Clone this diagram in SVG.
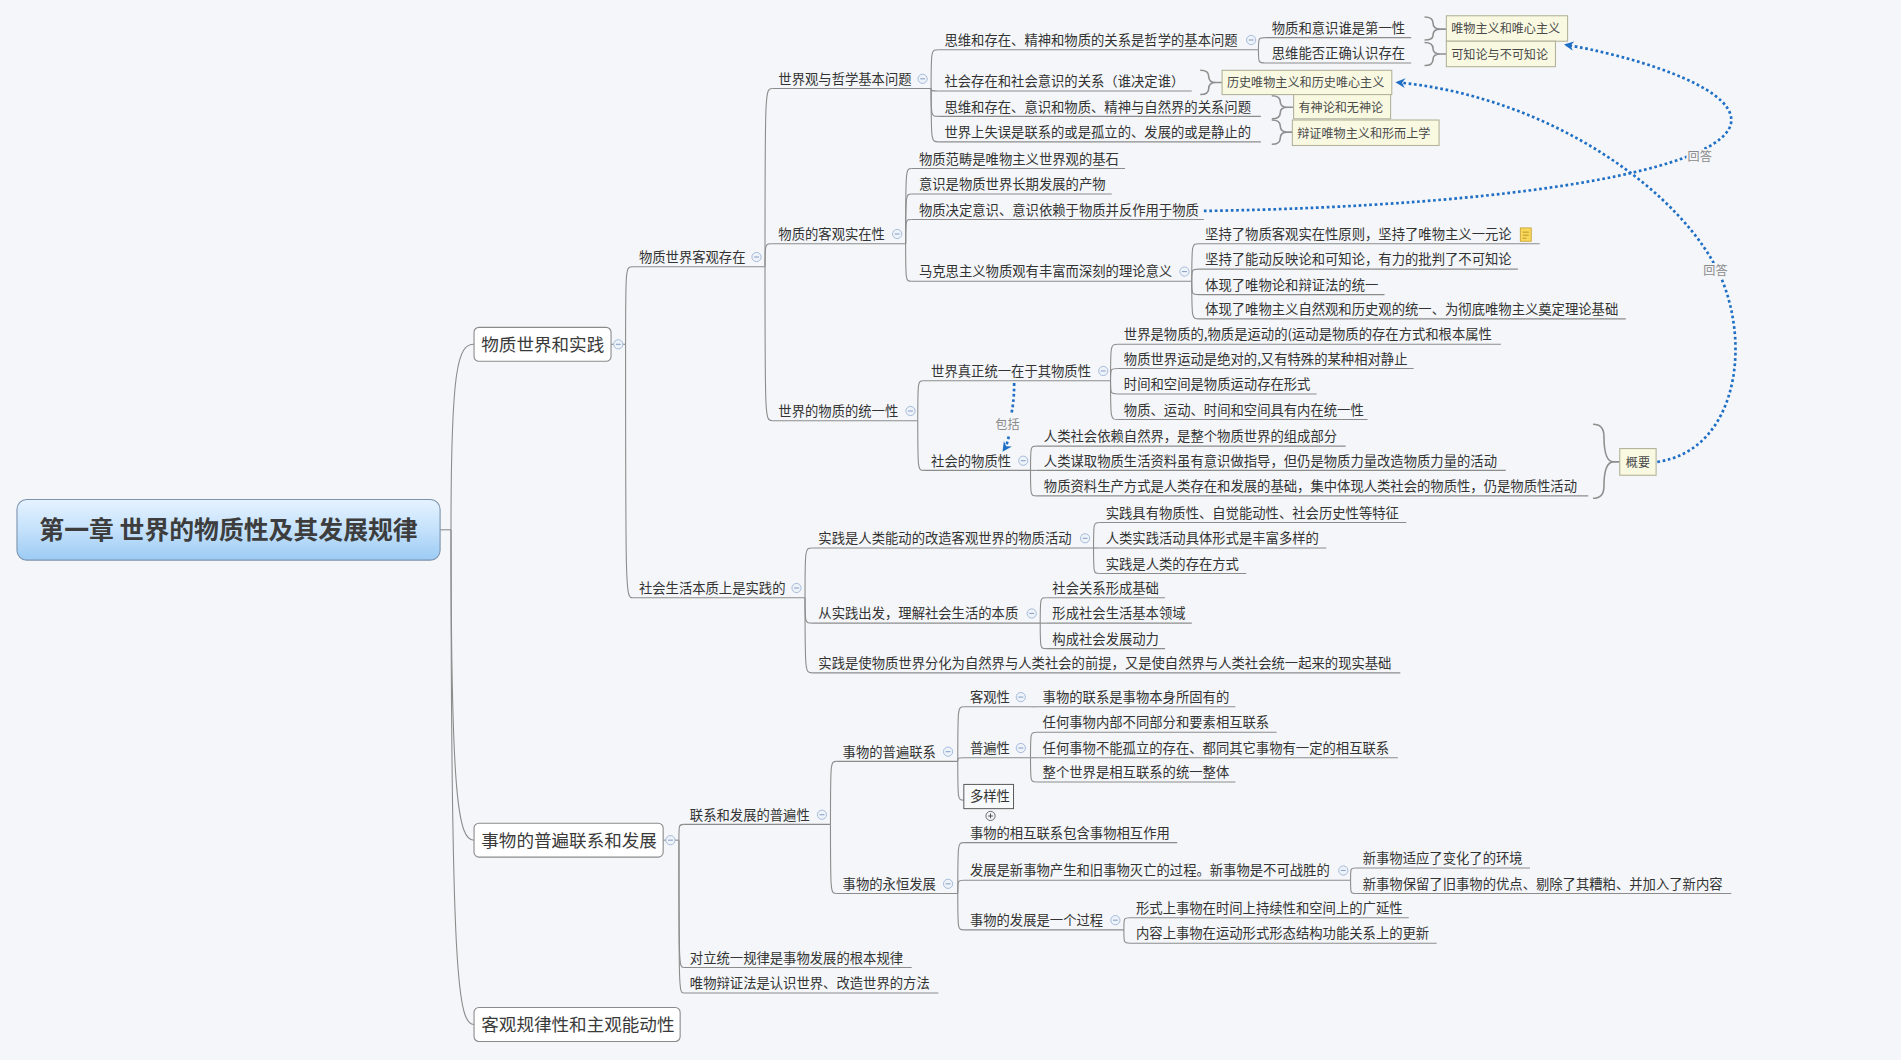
<svg xmlns="http://www.w3.org/2000/svg" width="1901" height="1060" viewBox="0 0 1901 1060">
<style>
text{font-family:"Noto Sans CJK SC","Noto Sans",sans-serif;fill:#333}
.t{font-size:11px}
.l1{font-size:14.5px;fill:#3a3a3a}
.root{font-size:20.5px;font-weight:bold;fill:#3d3d3d}
.st{font-size:10px;fill:#4a4a4a}
.rl{font-size:10px;fill:#8a8a8a}
.u,.c{fill:none;stroke:#8c8c8c;stroke-width:0.9}
.b1{fill:#fff;stroke:#8a8a8a;stroke-width:0.9}
.sum{fill:#f9f9e2;stroke:#b3b39a;stroke-width:0.9}
.br{fill:none;stroke:#8f8f8f;stroke-width:1.3}
.rel{fill:none;stroke:#1f6fc5;stroke-width:2.2;stroke-dasharray:2.2 2.2}
.lb{fill:#f4f6f9}
</style>
<defs>
<linearGradient id="rootg" x1="0" y1="0" x2="0" y2="1">
<stop offset="0" stop-color="#e6f3ff"/>
<stop offset="0.5" stop-color="#c4e1fb"/>
<stop offset="1" stop-color="#9ccbf4"/>
</linearGradient>
<g id="cm"><circle r="3.8" fill="#eef3fa" stroke="#a3b9d9" stroke-width="0.8"/><path d="M-2,0H2" stroke="#8aa3c8" stroke-width="0.9"/></g>
<g id="cp"><circle r="3.8" fill="#f4f6f9" stroke="#666" stroke-width="0.8"/><path d="M-2,0H2M0,-2V2" stroke="#555" stroke-width="0.9"/></g>
<marker id="arr" markerUnits="userSpaceOnUse" markerWidth="10" markerHeight="10" refX="6" refY="4" orient="auto" viewBox="0 0 10 8">
<path d="M0,0 L8,4 L0,8 L2.5,4 Z" fill="#1f6fc5"/>
</marker>
</defs>
<rect width="1901" height="1060" fill="#f4f6f9"/>
<g transform="scale(1.21237)">

<g id="connectors">
<path class="c" d="M363,437H372"/>
<path class="c" d="M372,437C372,300 378,284 391,284"/>
<path class="c" d="M372,437C372,660 378,693 391,693"/>
<path class="c" d="M372,437C372,810 378,845 391,845"/>
<path class="c" d="M504,284H516"/>
<path class="c" d="M516,284C516,220 516,220 522,220"/>
<path class="c" d="M516,284C516,493 516,493 522,493"/>
<path class="c" d="M631,220C631,73 631,73 637,73"/>
<path class="c" d="M631,220C631,201 631,201 637,201"/>
<path class="c" d="M631,220C631,347 631,347 637,347"/>
<path class="c" d="M768,73C768,41 768,41 774,41"/>
<path class="c" d="M768,73C768,75 768,75 774,75"/>
<path class="c" d="M768,73C768,96 768,96 774,96"/>
<path class="c" d="M768,73C768,117 768,117 774,117"/>
<path class="c" d="M1038,41C1038,31 1038,31 1044,31"/>
<path class="c" d="M1038,41C1038,52 1038,52 1044,52"/>
<path class="c" d="M747,201C747,139 747,139 752,139"/>
<path class="c" d="M747,201C747,160 747,160 752,160"/>
<path class="c" d="M747,201C747,181 747,181 752,181"/>
<path class="c" d="M747,201C747,232 747,232 752,232"/>
<path class="c" d="M983,232C983,201 983,201 989,201"/>
<path class="c" d="M983,232C983,222 983,222 989,222"/>
<path class="c" d="M983,232C983,243 983,243 989,243"/>
<path class="c" d="M983,232C983,263 983,263 989,263"/>
<path class="c" d="M757,347C757,314 757,314 762,314"/>
<path class="c" d="M757,347C757,388 757,388 762,388"/>
<path class="c" d="M916,314C916,284 916,284 922,284"/>
<path class="c" d="M916,314C916,304 916,304 922,304"/>
<path class="c" d="M916,314C916,325 916,325 922,325"/>
<path class="c" d="M916,314C916,346 916,346 922,346"/>
<path class="c" d="M850,388C850,368 850,368 855,368"/>
<path class="c" d="M850,388H855"/>
<path class="c" d="M850,388C850,409 850,409 855,409"/>
<path class="c" d="M664,493C664,452 664,452 670,452"/>
<path class="c" d="M664,493C664,514 664,514 670,514"/>
<path class="c" d="M664,493C664,555 664,555 670,555"/>
<path class="c" d="M902,452C902,431 902,431 907,431"/>
<path class="c" d="M902,452H907"/>
<path class="c" d="M902,452C902,473 902,473 907,473"/>
<path class="c" d="M858,514C858,493 858,493 863,493"/>
<path class="c" d="M858,514H863"/>
<path class="c" d="M858,514C858,535 858,535 863,535"/>
<path class="c" d="M547,693H560"/>
<path class="c" d="M560,693C560,680 560,680 564,680"/>
<path class="c" d="M560,693C560,798 560,798 564,798"/>
<path class="c" d="M560,693C560,819 560,819 564,819"/>
<path class="c" d="M685,680C685,628 685,628 690,628"/>
<path class="c" d="M685,680C685,737 685,737 690,737"/>
<path class="c" d="M790,628C790,583 790,583 795,583"/>
<path class="c" d="M790,628C790,625 790,625 795,625"/>
<path class="c" d="M790,628C790,660 790,660 795,660"/>
<path class="c" d="M850,583H855"/>
<path class="c" d="M850,625C850,604 850,604 855,604"/>
<path class="c" d="M850,625H855"/>
<path class="c" d="M850,625C850,645 850,645 855,645"/>
<path class="c" d="M790,737C790,695 790,695 795,695"/>
<path class="c" d="M790,737C790,726 790,726 795,726"/>
<path class="c" d="M790,737C790,767 790,767 795,767"/>
<path class="c" d="M1114,726C1114,716 1114,716 1118,716"/>
<path class="c" d="M1114,726C1114,737 1114,737 1118,737"/>
<path class="c" d="M927,767C927,757 927,757 932,757"/>
<path class="c" d="M927,767C927,778 927,778 932,778"/>
<path class="br" d="M1175,14Q1182,14 1182,19Q1182,24 1188,24Q1182,24 1182,29Q1182,33 1175,33M1188,24H1193"/>
<path class="br" d="M1175,35Q1182,35 1182,40Q1182,44.5 1188,44.5Q1182,44.5 1182,49Q1182,54 1175,54M1188,44.5H1193"/>
<path class="br" d="M990,58Q997,58 997,63Q997,68 1003,68Q997,68 997,73Q997,78 990,78M1003,68H1008"/>
<path class="br" d="M1049,79Q1056,79 1056,84Q1056,88.5 1062,88.5Q1056,88.5 1056,93Q1056,98 1049,98M1062,88.5H1067"/>
<path class="br" d="M1049,99Q1056,99 1056,104Q1056,109 1062,109Q1056,109 1056,114Q1056,119 1049,119M1062,109H1066"/>
<path class="br" d="M1314,350Q1323,350 1323,360Q1323,381 1331,381Q1323,381 1323,401Q1323,411 1314,411M1331,381H1336"/>
<path class="rel" d="M993,174C1250,170 1425,140 1428,100C1430,70 1340,45 1292,37" marker-end="url(#arr)"/>
<path class="rel" d="M1367,381C1430,372 1445,290 1420,230C1390,160 1280,80 1153,68" marker-end="url(#arr)"/>
<path class="rel" d="M836.5,316C836.5,330 835,338 834,342"/>
<path class="rel" d="M832,360C831,365 830,368 828,371" marker-end="url(#arr)"/>
<rect class="lb" x="1391" y="123" width="22" height="13"/>
<rect class="lb" x="1404" y="217" width="22" height="13"/>
<text class="rl" x="1392" y="133">回答</text>
<text class="rl" x="1405" y="227">回答</text>
<text class="rl" x="821" y="354">包括</text>
</g>

<g id="root">
<rect x="14" y="412" width="349" height="50" rx="8" fill="url(#rootg)" stroke="#7c93ad" stroke-width="0.9"/>
<text class="root" x="188.5" y="445" text-anchor="middle">第一章 世界的物质性及其发展规律</text>
</g>

<g id="n-wzsj">
<rect class="b1" x="391" y="270" width="113" height="28" rx="4"/>
<text class="l1" x="397" y="289.5">物质世界和实践</text>
<use href="#cm" x="510" y="284"/>
</g>
<g id="n-swpb">
<rect class="b1" x="391" y="679" width="156" height="28" rx="4"/>
<text class="l1" x="397" y="698.5">事物的普遍联系和发展</text>
<use href="#cm" x="553" y="693"/>
</g>
<g id="n-kggl">
<rect class="b1" x="391" y="831" width="170" height="28" rx="4"/>
<text class="l1" x="397" y="850.5">客观规律性和主观能动性</text>
</g>

<g id="n-g1"><path class="u" d="M522,220H631"/><text class="t" x="527" y="216">物质世界客观存在</text><use href="#cm" x="624" y="212"/></g>
<g id="n-g2"><path class="u" d="M522,493H664"/><text class="t" x="527" y="489">社会生活本质上是实践的</text><use href="#cm" x="657" y="485"/></g>

<g id="n-g1a"><path class="u" d="M637,73H768"/><text class="t" x="642" y="69">世界观与哲学基本问题</text><use href="#cm" x="761" y="65"/></g>
<g id="n-g1b"><path class="u" d="M637,201H747"/><text class="t" x="642" y="197">物质的客观实在性</text><use href="#cm" x="740" y="193"/></g>
<g id="n-g1c"><path class="u" d="M637,347H757"/><text class="t" x="642" y="343">世界的物质的统一性</text><use href="#cm" x="751" y="339"/></g>

<g id="n-g1a1"><path class="u" d="M774,41H1038"/><text class="t" x="779" y="37">思维和存在、精神和物质的关系是哲学的基本问题</text><use href="#cm" x="1032" y="33"/></g>
<g id="n-g1a1a"><path class="u" d="M1044,31H1164"/><text class="t" x="1049" y="27">物质和意识谁是第一性</text></g>
<g id="n-g1a1b"><path class="u" d="M1044,52H1164"/><text class="t" x="1049" y="48">思维能否正确认识存在</text></g>
<g id="s-wwzy"><rect class="sum" x="1193" y="13" width="100" height="21"/><text class="st" x="1197" y="27.5">唯物主义和唯心主义</text></g>
<g id="s-kzl"><rect class="sum" x="1193" y="34" width="90" height="21"/><text class="st" x="1197" y="48.5">可知论与不可知论</text></g>
<g id="n-g1a2"><path class="u" d="M774,75H983"/><text class="t" x="779" y="71">社会存在和社会意识的关系（谁决定谁）</text></g>
<g id="s-lswz"><rect class="sum" x="1008" y="58" width="140" height="20"/><text class="st" x="1012" y="72">历史唯物主义和历史唯心主义</text></g>
<g id="n-g1a3"><path class="u" d="M774,96H1040"/><text class="t" x="779" y="92">思维和存在、意识和物质、精神与自然界的关系问题</text></g>
<g id="s-ysl"><rect class="sum" x="1067" y="78" width="80" height="20"/><text class="st" x="1071" y="92">有神论和无神论</text></g>
<g id="n-g1a4"><path class="u" d="M774,117H1040"/><text class="t" x="779" y="113">世界上失误是联系的或是孤立的、发展的或是静止的</text></g>
<g id="s-bzwz"><rect class="sum" x="1066" y="99" width="121" height="21"/><text class="st" x="1070" y="113.5">辩证唯物主义和形而上学</text></g>

<g id="n-g1b1"><path class="u" d="M752,139H928"/><text class="t" x="758" y="135">物质范畴是唯物主义世界观的基石</text></g>
<g id="n-g1b2"><path class="u" d="M752,160H917"/><text class="t" x="758" y="156">意识是物质世界长期发展的产物</text></g>
<g id="n-g1b3"><path class="u" d="M752,181H993"/><text class="t" x="758" y="177">物质决定意识、意识依赖于物质并反作用于物质</text></g>
<g id="n-g1b4"><path class="u" d="M752,232H983"/><text class="t" x="758" y="228">马克思主义物质观有丰富而深刻的理论意义</text><use href="#cm" x="977" y="224"/></g>
<g id="n-g1b4a"><path class="u" d="M989,201H1270"/><text class="t" x="994" y="197">坚持了物质客观实在性原则，坚持了唯物主义一元论</text>
<rect x="1254" y="188" width="9" height="11" fill="#f7d85a" stroke="#c8a030" stroke-width="0.7"/><path d="M1256,191.5H1261M1256,194H1261M1256,196.5H1259" stroke="#b58a1c" stroke-width="0.7"/></g>
<g id="n-g1b4b"><path class="u" d="M989,222H1252"/><text class="t" x="994" y="218">坚持了能动反映论和可知论，有力的批判了不可知论</text></g>
<g id="n-g1b4c"><path class="u" d="M989,243H1142"/><text class="t" x="994" y="239">体现了唯物论和辩证法的统一</text></g>
<g id="n-g1b4d"><path class="u" d="M989,263H1341"/><text class="t" x="994" y="259">体现了唯物主义自然观和历史观的统一、为彻底唯物主义奠定理论基础</text></g>

<g id="n-g1c1"><path class="u" d="M762,314H916"/><text class="t" x="768" y="310">世界真正统一在于其物质性</text><use href="#cm" x="910" y="306"/></g>
<g id="n-g1c1a"><path class="u" d="M922,284H1238"/><text class="t" x="927" y="280">世界是物质的,物质是运动的(运动是物质的存在方式和根本属性</text></g>
<g id="n-g1c1b"><path class="u" d="M922,304H1166"/><text class="t" x="927" y="300">物质世界运动是绝对的,又有特殊的某种相对静止</text></g>
<g id="n-g1c1c"><path class="u" d="M922,325H1086"/><text class="t" x="927" y="321">时间和空间是物质运动存在形式</text></g>
<g id="n-g1c1d"><path class="u" d="M922,346H1128"/><text class="t" x="927" y="342">物质、运动、时间和空间具有内在统一性</text></g>
<g id="n-g1c2"><path class="u" d="M762,388H850"/><text class="t" x="768" y="384">社会的物质性</text><use href="#cm" x="844" y="380"/></g>
<g id="n-g1c2a"><path class="u" d="M855,368H1110"/><text class="t" x="861" y="364">人类社会依赖自然界，是整个物质世界的组成部分</text></g>
<g id="n-g1c2b"><path class="u" d="M855,388H1242"/><text class="t" x="861" y="384">人类谋取物质生活资料虽有意识做指导，但仍是物质力量改造物质力量的活动</text></g>
<g id="n-g1c2c"><path class="u" d="M855,409H1310"/><text class="t" x="861" y="405">物质资料生产方式是人类存在和发展的基础，集中体现人类社会的物质性，仍是物质性活动</text></g>
<g id="s-gy"><rect class="sum" x="1336" y="370" width="30" height="22"/><text class="st" x="1341" y="385">概要</text></g>

<g id="n-g2a"><path class="u" d="M670,452H902"/><text class="t" x="675" y="448">实践是人类能动的改造客观世界的物质活动</text><use href="#cm" x="895" y="444"/></g>
<g id="n-g2a1"><path class="u" d="M907,431H1160"/><text class="t" x="912" y="427">实践具有物质性、自觉能动性、社会历史性等特征</text></g>
<g id="n-g2a2"><path class="u" d="M907,452H1094"/><text class="t" x="912" y="448">人类实践活动具体形式是丰富多样的</text></g>
<g id="n-g2a3"><path class="u" d="M907,473H1028"/><text class="t" x="912" y="469">实践是人类的存在方式</text></g>
<g id="n-g2b"><path class="u" d="M670,514H858"/><text class="t" x="675" y="510">从实践出发，理解社会生活的本质</text><use href="#cm" x="851" y="506"/></g>
<g id="n-g2b1"><path class="u" d="M863,493H961"/><text class="t" x="868" y="489">社会关系形成基础</text></g>
<g id="n-g2b2"><path class="u" d="M863,514H983"/><text class="t" x="868" y="510">形成社会生活基本领域</text></g>
<g id="n-g2b3"><path class="u" d="M863,535H961"/><text class="t" x="868" y="531">构成社会发展动力</text></g>
<g id="n-g2c"><path class="u" d="M670,555H1155"/><text class="t" x="675" y="551">实践是使物质世界分化为自然界与人类社会的前提，又是使自然界与人类社会统一起来的现实基础</text></g>

<g id="n-h1"><path class="u" d="M564,680H685"/><text class="t" x="569" y="676">联系和发展的普遍性</text><use href="#cm" x="678" y="672"/></g>
<g id="n-h2"><path class="u" d="M564,798H752"/><text class="t" x="569" y="794">对立统一规律是事物发展的根本规律</text></g>
<g id="n-h3"><path class="u" d="M564,819H774"/><text class="t" x="569" y="815">唯物辩证法是认识世界、改造世界的方法</text></g>
<g id="n-h1a"><path class="u" d="M690,628H790"/><text class="t" x="695" y="624">事物的普遍联系</text><use href="#cm" x="782" y="620"/></g>
<g id="n-h1a1"><path class="u" d="M795,583H850"/><text class="t" x="800" y="579">客观性</text><use href="#cm" x="842" y="575"/></g>
<g id="n-h1a1a"><path class="u" d="M855,583H1019"/><text class="t" x="860" y="579">事物的联系是事物本身所固有的</text></g>
<g id="n-h1a2"><path class="u" d="M795,625H850"/><text class="t" x="800" y="621">普遍性</text><use href="#cm" x="842" y="617"/></g>
<g id="n-h1a2a"><path class="u" d="M855,604H1053"/><text class="t" x="860" y="600">任何事物内部不同部分和要素相互联系</text></g>
<g id="n-h1a2b"><path class="u" d="M855,625H1153"/><text class="t" x="860" y="621">任何事物不能孤立的存在、都同其它事物有一定的相互联系</text></g>
<g id="n-h1a2c"><path class="u" d="M855,645H1019"/><text class="t" x="860" y="641">整个世界是相互联系的统一整体</text></g>
<g id="n-h1a3"><rect x="795" y="647" width="41" height="20" fill="#f8f9fb" stroke="#555" stroke-width="0.8"/><text class="t" x="800" y="661">多样性</text><use href="#cp" x="817" y="673"/></g>
<g id="n-h1b"><path class="u" d="M690,737H790"/><text class="t" x="695" y="733">事物的永恒发展</text><use href="#cm" x="782" y="729"/></g>
<g id="n-h1b1"><path class="u" d="M795,695H971"/><text class="t" x="800" y="691">事物的相互联系包含事物相互作用</text></g>
<g id="n-h1b2"><path class="u" d="M795,726H1114"/><text class="t" x="800" y="722">发展是新事物产生和旧事物灭亡的过程。新事物是不可战胜的</text><use href="#cm" x="1108" y="718"/></g>
<g id="n-h1b2a"><path class="u" d="M1118,716H1262"/><text class="t" x="1124" y="712">新事物适应了变化了的环境</text></g>
<g id="n-h1b2b"><path class="u" d="M1118,737H1428"/><text class="t" x="1124" y="733">新事物保留了旧事物的优点、剔除了其糟粕、并加入了新内容</text></g>
<g id="n-h1b3"><path class="u" d="M795,767H927"/><text class="t" x="800" y="763">事物的发展是一个过程</text><use href="#cm" x="920" y="759"/></g>
<g id="n-h1b3a"><path class="u" d="M932,757H1162"/><text class="t" x="937" y="753">形式上事物在时间上持续性和空间上的广延性</text></g>
<g id="n-h1b3b"><path class="u" d="M932,778H1185"/><text class="t" x="937" y="774">内容上事物在运动形式形态结构功能关系上的更新</text></g>

</g>
</svg>
